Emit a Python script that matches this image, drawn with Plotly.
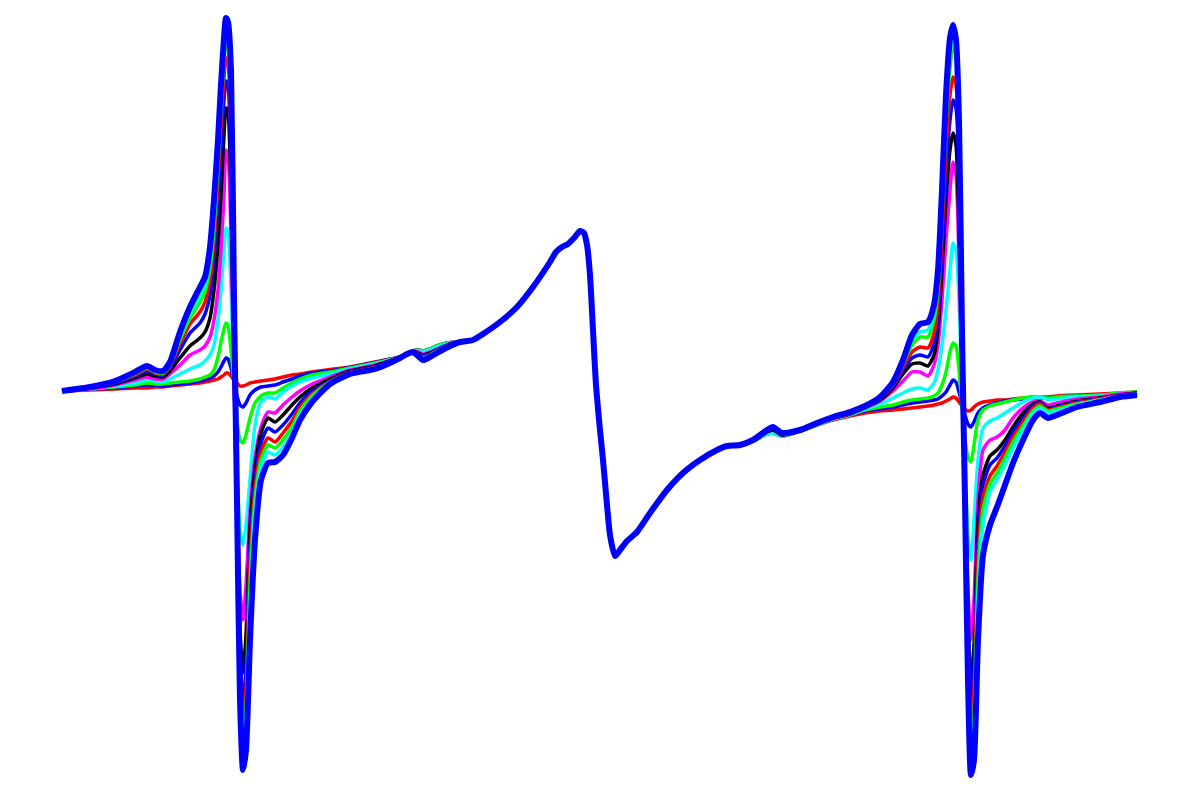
import plotly.graph_objects as go

# Field positions (arbitrary field units) for left wing, shared centre, right wing
left_field = [62, 90, 115, 135, 147, 155, 163, 170, 180, 190, 200, 205, 210, 214, 218, 221, 224, 226, 228,
              231, 234, 237, 240, 243, 246, 250, 255, 261, 268, 275, 283, 292, 300, 312, 330, 350, 375,
              400, 407, 413, 418, 423, 430, 437, 450]
centre_field = [460, 473, 483, 500, 517, 533, 550, 556, 562, 568, 574, 580, 584, 587, 590, 593, 596, 600,
                603, 607, 610, 615, 620, 627, 637, 650, 667, 683, 700, 717, 727, 740]
right_field = [753, 767, 773, 782, 800, 817, 833, 850, 865, 880, 893, 903, 912, 920, 928, 934, 938, 942,
               946, 950, 953, 956, 959, 962, 965, 968, 971, 974, 978, 983, 990, 997, 1005, 1013, 1023,
               1033, 1040, 1048, 1057, 1077, 1100, 1120, 1137]

# Shared central component (intensity, a.u.)
centre_signal = [48, 50, 56, 68, 83, 103, 128, 138, 143, 146, 152, 159, 157, 145, 115, 60, 5, -40, -70,
                 -115, -145, -166, -160, -151, -142, -123, -100, -83, -70, -60, -56, -55]

# Series, in drawing order
series_names = ["s1", "s2", "s3", "s4", "s5", "s6", "s7", "s8", "s9", "s10", "s11"]
series_colors = ["#ff0000", "#0000ff", "#00ff00", "#00ffff", "#ff00ff", "#000000",
                 "#0000ff", "#ff0000", "#00ff00", "#00ffff", "#0000ff"]
series_widths = [3.5, 3.5, 3.5, 3.5, 3.5, 3.5, 3.5, 3.5, 3.5, 3.5, 6]

left_s1 = [-1, 0, 1, 2, 2, 3, 3, 4, 5, 6, 7, 8, 9, 10, 11, 13, 15, 17, 17, 14, 10, 7, 4, 4, 5, 7, 8, 9,
           10, 11, 13, 15, 16, 18, 20.5, 23, 28, 33, 36, 39, 40, 39, 41, 44, 47.5]
left_s2 = [-1, 1, 2, 4, 5, 5, 4, 5, 6, 7, 9, 10, 12, 14, 18, 23, 29, 32, 31, 22, 8, -6, -15, -17, -13, -5,
           0, 3, 4, 5, 8, 11, 14, 17, 19, 22.5, 27.5, 33, 36, 39, 40, 39, 41, 44, 47.5]
left_s3 = [-1, 1, 3, 5, 7, 6, 6, 7, 8, 9, 11, 13, 15, 20, 33, 48, 61, 67, 64, 40, 5, -30, -50, -53, -45,
           -28, -13, -6, -3, -3, 2, 7, 11, 15, 18, 22, 27, 33, 36, 39, 40, 39, 41, 44, 47.5]
left_s4 = [-1, 1, 4, 7, 10, 9, 8, 11, 16, 21, 25, 29, 35, 45, 70, 100, 140, 162, 158, 100, 10, -80, -140,
           -155, -135, -90, -35, -12, -7, -9, -2, 4, 8, 12, 16, 21, 26, 33, 36, 39, 39, 38, 40, 43, 47]
left_s5 = [-1, 1, 5, 10, 13, 11, 11, 16, 25, 35, 40, 44, 53, 70, 100, 140, 195, 240, 235, 150, 10, -110,
           -200, -230, -195, -122, -68, -37, -22, -23, -15, -7, -1, 6, 13, 20, 25, 33, 36, 39, 38, 36,
           38, 41, 46.5]
left_s6 = [-1, 2, 6, 12, 16, 14, 13, 19, 32, 44, 52, 58, 72, 100, 145, 195, 255, 282, 278, 190, 30, -130,
           -240, -283, -245, -138, -78, -43, -28, -32, -25, -15, -7, 2, 11, 19, 24, 33, 36, 39, 37, 35,
           37, 40, 46]
left_s7 = [-1, 2, 7, 14, 19, 16, 15, 22, 40, 57, 67, 76, 95, 130, 185, 240, 290, 309, 305, 220, 50, -120,
           -260, -315, -278, -158, -90, -53, -38, -42, -35, -24, -13, -1, 9, 18, 23, 33, 36, 39, 36, 34,
           36, 40, 45.5]
left_s8 = [-1, 2, 8, 15, 21, 17, 16, 24, 46, 66, 78, 88, 110, 148, 210, 265, 312, 332, 328, 250, 70, -110,
           -280, -335, -300, -175, -100, -62, -48, -52, -43, -31, -17, -4, 8.5, 17.5, 22.5, 33, 36, 39,
           36, 33, 35, 39, 45]
left_s9 = [-1, 3, 8, 16, 22, 18, 17, 25, 50, 72, 88, 98, 122, 162, 225, 280, 328, 345, 342, 280, 80, -110,
           -290, -350, -318, -195, -110, -70, -55, -58, -50, -37, -21, -6, 8, 17, 22, 33, 36, 39, 35, 32,
           35, 39, 45]
left_s10 = [-1, 3, 9, 17, 23, 19, 18, 26, 54, 77, 95, 105, 132, 175, 240, 295, 340, 359, 355, 300, 90,
            -110, -300, -365, -335, -215, -122, -78, -62, -65, -57, -42, -25, -9, 7, 16.5, 21.5, 33, 36,
            39, 35, 31, 34, 38, 44.5]
left_s11 = [-1, 3, 9, 18, 24, 20, 19, 28, 58, 83, 103, 113, 143, 190, 250, 305, 352, 372, 368, 320, 90,
            -110, -310, -380, -360, -250, -150, -90, -73, -72, -65, -48, -30, -12, 6, 16, 21, 32, 36, 38,
            34, 30, 33, 37, 44]

right_s1 = [-51, -44, -43, -46, -41, -35, -30, -26, -23, -21, -20, -19, -18, -17, -16, -15, -14, -13, -11,
            -9, -7, -8, -12, -16, -19, -21, -20, -17, -14, -12, -11, -10, -10, -9, -8, -7, -7, -7, -6,
            -5, -4, -3, -2]
right_s2 = [-51, -44, -43, -46, -41, -35, -29, -25, -21, -19, -17, -15, -13, -12, -11, -10, -9, -6, -2, 5,
            10, 8, -2, -13, -25, -34, -37, -32, -23, -18, -15, -13, -11, -10, -9, -8, -8, -8, -7, -6, -5,
            -4, -3]
right_s3 = [-51, -44, -43, -46, -41, -35, -29, -25, -20, -17, -15, -12, -10, -9, -8, -6, -3, 5, 18, 38,
            47, 44, 20, -15, -50, -67, -72, -55, -30, -20, -16, -14, -12, -10, -8, -7, -7, -8, -7, -6,
            -5, -3, -2]
right_s4 = [-51, -44, -43, -46, -41, -35, -29, -24.5, -19, -14, -8, -3, 1, 2, 0, 7, 20, 45, 80, 120, 147,
            140, 90, 0, -80, -145, -170, -130, -70, -38, -31, -28, -23, -18, -12, -8, -7, -10, -9, -7, -6,
            -4, -3]
right_s5 = [-51, -42, -40, -45, -41, -34.5, -28.5, -24, -18, -11, -1, 9, 18, 18, 14, 25, 45, 90, 150, 200,
            228, 215, 130, 10, -110, -200, -250, -210, -110, -60, -50, -47, -40, -28, -18, -12, -11, -15,
            -13, -9, -7, -4, -3]
right_s6 = [-51, -42, -40, -45, -41, -34, -28, -24, -17.5, -10, 2, 16, 26, 27, 24, 35, 60, 120, 190, 240,
            257, 245, 160, 30, -110, -230, -293, -255, -130, -85, -66, -60, -50, -37, -23, -14, -12, -18,
            -16, -11, -8, -5, -3]
right_s7 = [-50, -41, -38, -44, -40.5, -34, -28, -23.5, -17, -9, 4, 20, 32, 35, 33, 47, 72, 135, 215, 270,
            290, 282, 220, 70, -90, -220, -320, -280, -150, -95, -75, -68, -56, -42, -28, -16, -13, -19,
            -17, -12, -9, -5, -3]
right_s8 = [-50, -41, -38, -44, -40.5, -34, -28, -23.5, -17, -8.5, 5, 23, 38, 43, 42, 57, 85, 155, 240,
            295, 313, 305, 240, 80, -85, -240, -340, -300, -170, -107, -86, -76, -62, -47, -32, -18, -14,
            -20, -18, -13, -9, -5, -4]
right_s9 = [-50, -41, -38, -44, -40.5, -34, -28, -23, -16.5, -8, 6, 26, 45, 53, 53, 70, 100, 175, 265,
            322, 343, 335, 265, 80, -90, -255, -355, -325, -190, -120, -94, -83, -68, -52, -36, -21, -16,
            -21, -19, -14, -10, -6, -4]
right_s10 = [-50, -41, -38, -44, -40, -33.5, -27.5, -22.5, -16, -7.5, 7, 28, 50, 58, 60, 78, 110, 185, 280,
             335, 355, 345, 270, 70, -100, -270, -370, -345, -210, -135, -102, -90, -75, -58, -40, -24,
             -18, -23, -21, -15, -10, -6, -4]
right_s11 = [-50, -40, -37, -43, -40, -33, -27, -22, -16, -7, 8, 30, 55, 66, 68, 85, 120, 200, 295, 352,
             365, 350, 270, 57, -110, -290, -385, -370, -250, -165, -135, -117, -95, -73, -50, -30, -23,
             -28, -25, -17, -12, -7, -5]

left_all = [left_s1, left_s2, left_s3, left_s4, left_s5, left_s6, left_s7, left_s8, left_s9, left_s10, left_s11]
right_all = [right_s1, right_s2, right_s3, right_s4, right_s5, right_s6, right_s7, right_s8, right_s9,
             right_s10, right_s11]

field = left_field + centre_field + right_field

fig = go.Figure()
for name, color, width, lft, rgt in zip(series_names, series_colors, series_widths, left_all, right_all):
    fig.add_trace(go.Scatter(
        x=field, y=lft + centre_signal + rgt, mode="lines", name=name,
        line=dict(color=color, width=width, shape="spline", smoothing=0.6),
        hoverinfo="skip", showlegend=False))

fig.update_layout(
    width=1200, height=800,
    margin=dict(l=0, r=0, t=0, b=0),
    paper_bgcolor="white", plot_bgcolor="white",
    xaxis=dict(range=[8, 1208], visible=False, showgrid=False, zeroline=False),
    yaxis=dict(range=[-418, 382], visible=False, showgrid=False, zeroline=False),
)
fig.write_html("out.html")
